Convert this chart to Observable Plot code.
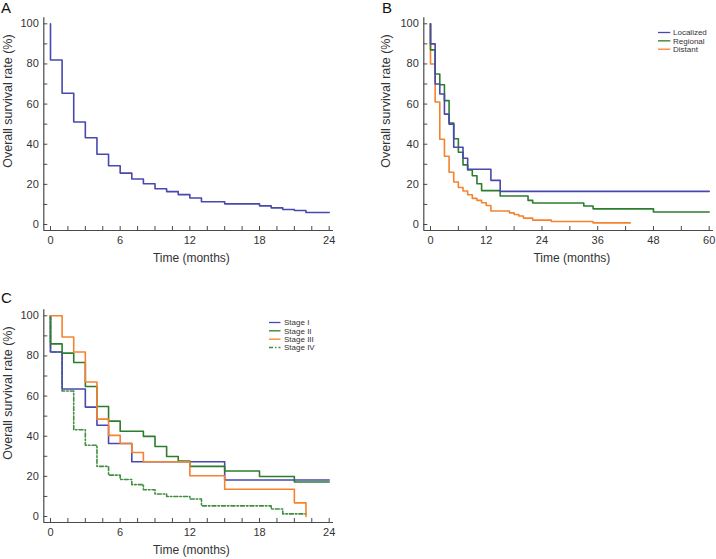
<!DOCTYPE html>
<html><head><meta charset="utf-8">
<script src="https://cdn.jsdelivr.net/npm/d3@7"></script>
<script src="https://cdn.jsdelivr.net/npm/@observablehq/plot@0.6"></script>
<style>
body{margin:0;background:#fff;}
#root{position:relative;width:716px;height:559px;font-family:"Liberation Sans",Arial,Helvetica,sans-serif;overflow:hidden;background:#fff;}
.panel{position:absolute;}
.letter{position:absolute;font-size:15px;color:#111;line-height:15px;}
</style></head><body><div id="root"></div>
<script>
// ---------- data ----------
const yTitle = "Overall survival rate (%)";
const xTitle = "Time (months)";
const yTicks = [0, 10, 20, 30, 40, 50, 60, 70, 80, 90, 100];
const yTickLabels = [0, 20, 40, 60, 80, 100];
const xTickLabels24 = [0, 6, 12, 18, 24];
const xTickLabels60 = [0, 12, 24, 36, 48, 60];

// Panel A: overall
const timesA = [0, 0, 1, 2, 3, 4, 5, 6, 7, 8, 9, 10, 11, 12, 13, 15, 18, 19, 20, 21, 22, 24];
const survA  = [100, 82, 65.4, 51.1, 43.2, 35.0, 29.3, 25.6, 22.7, 20.3, 17.8, 16.4, 14.9, 13.2, 11.3, 10.3, 9.3, 8.3, 7.5, 7.0, 6.0, 6.0];

// Panel B: by extent
const namesB = ["Localized", "Regional", "Distant"];
const timesLocalized = [0, 0, 1, 2, 3, 4, 5, 7, 8, 13, 15, 60];
const survLocalized  = [100, 90, 70, 65, 55, 50, 38.5, 33, 27.5, 22, 16.5, 16.5];
const timesRegional = [0, 0, 1, 2, 3, 4, 5, 6, 7, 8, 9, 10, 11, 15, 21, 22, 33, 35, 48, 60];
const survRegional  = [100, 87, 75, 69.6, 61.7, 50.6, 42.7, 36, 29.7, 27.2, 24.3, 20.3, 16.9, 14.2, 12, 10.7, 9.2, 7.8, 6.2, 6.2];
const timesDistant = [0, 0, 1, 2, 3, 4, 5, 6, 7, 8, 9, 10, 11, 12, 13, 17, 18, 19, 20, 22, 26, 35, 43];
const survDistant  = [100, 80, 61, 42.5, 34, 26, 21.2, 18.4, 16.7, 14.8, 13, 12, 10.8, 9.5, 6.7, 5.8, 5, 4.2, 3.2, 2.2, 1.5, 0.8, 0.8];

// Panel C: by stage
const namesC = ["Stage I", "Stage II", "Stage III", "Stage IV"];
const timesStageI = [0, 0, 1, 3, 4, 5, 7, 15, 24];
const survStageI  = [100, 82, 63.5, 54.5, 45.5, 36.4, 27.3, 18.2, 18.2];
const timesStageII = [0, 0, 1, 2, 3, 4, 5, 6, 8, 9, 10, 11, 12, 15, 18, 21, 24];
const survStageII  = [100, 86, 81.4, 76.7, 64.8, 54.8, 47.5, 42.5, 39.9, 34.9, 29.9, 27.6, 25, 22.7, 19.9, 17.2, 17.2];
const timesStageIII = [0, 1, 2, 3, 4, 5, 6, 7, 8, 12, 15, 21, 22];
const survStageIII  = [100, 89.4, 82, 67, 48.5, 40.4, 36.4, 31.9, 27.3, 20.3, 13.6, 6.8, 0];
const timesStageIV = [0, 0, 1, 2, 3, 4, 5, 6, 7, 8, 9, 10, 12, 13, 19, 20, 22];
const survStageIV  = [100, 82, 62.5, 43.2, 35.5, 25, 20.6, 18.4, 15.9, 13.3, 11.2, 10, 8.7, 5.3, 3.7, 1.3, 1.3];

// ---------- styles ----------
const BLUE = "#4848ae", GREEN = "#2c7d2c", ORANGE = "#f5822f", GREEN4 = "#3f8f3f";
const axisInk = "#4a4a4a", textInk = "#333";
const root = document.getElementById("root");

function toRows(t, v) { return t.map((x, i) => ({t: x, v: v[i]})); }

function panel(cfg) {
  const {left, top, width, height, x0px, xMaxPx, y100px, y0px, xMax, xLabels, xMinorStep, lines, yTitleDx, xTitleDx} = cfg;
  const ppx = (xMaxPx - x0px) / xMax, ppy = (y0px - y100px) / 100;
  const xLo = -6.7 / ppx, xHi = xMax + 4.3 / ppx, yLo = -6 / ppy, yHi = 100 + 6 / ppy;
  const tickLen = 4;
  const xMinor = d3.range(0, xMax + 1e-9, xMinorStep);
  const marks = [
    Plot.ruleY(yTicks, {x1: xLo, x2: xLo + tickLen / ppx, stroke: axisInk}),
    Plot.ruleX(xMinor, {y1: yLo, y2: yLo + tickLen / ppy, stroke: axisInk}),
    Plot.ruleX([xLo], {y1: yLo, y2: yHi, stroke: axisInk, strokeWidth: 1.2}),
    Plot.ruleY([yLo], {x1: xLo, x2: xHi, stroke: axisInk, strokeWidth: 1.2}),
    Plot.text(yTickLabels, {x: xLo, y: d => d, dx: -5, textAnchor: "end", fontSize: 11, fill: textInk}),
    Plot.text(xLabels, {x: d => d, y: yLo, dy: 10, fontSize: 11, fill: textInk}),
    ...lines.map(s => Plot.line(toRows(s.t, s.v), {x: "t", y: "v", curve: "step-after", stroke: s.color, strokeWidth: 1.6, strokeDasharray: s.dash || null})),
    Plot.text([xTitle], {x: xMax / 2, y: yLo, dy: 28, dx: xTitleDx, fontSize: 12, fill: textInk, ariaLabel: "x-title"}),
    Plot.text([yTitle], {x: xLo, y: 61.5, dx: yTitleDx, rotate: -90, fontSize: 12.5, fill: textInk, ariaLabel: "y-title"})
  ];
  const svg = Plot.plot({
    width, height,
    marginLeft: x0px - 6.7, marginRight: width - (xMaxPx + 4.3),
    marginTop: y100px - 6, marginBottom: height - (y0px + 6),
    x: {domain: [xLo, xHi], axis: null},
    y: {domain: [yLo, yHi], axis: null},
    style: {fontFamily: '"Liberation Sans", Arial, sans-serif', background: "transparent", overflow: "visible"},
    marks
  });
  const yt = svg.querySelector('[aria-label="y-title"] text');
  if (yt) { yt.setAttribute("textLength", 166); yt.setAttribute("lengthAdjust", "spacingAndGlyphs"); }
  const xt = svg.querySelector('[aria-label="x-title"] text');
  if (xt) { xt.setAttribute("textLength", 73); xt.setAttribute("lengthAdjust", "spacingAndGlyphs"); }
  svg.classList.add("panel");
  svg.style.position = "absolute";
  svg.style.left = left + "px";
  svg.style.top = top + "px";
  root.appendChild(svg);
}

function legend({left, top, names, colors, dashes, step, lineLen, textX}) {
  const h = names.length * step + 4;
  const svg = d3.select(root).append("svg")
    .style("position", "absolute").style("left", left + "px").style("top", top + "px")
    .attr("width", 80).attr("height", h);
  names.forEach((n, i) => {
    const y = 4.5 + i * step;
    svg.append("line").attr("x1", 0).attr("x2", lineLen).attr("y1", y).attr("y2", y)
      .attr("stroke", colors[i]).attr("stroke-width", 1.3).attr("stroke-dasharray", dashes[i] || null);
    svg.append("text").attr("x", textX).attr("y", y).attr("dy", "0.34em")
      .attr("font-size", 8).attr("fill", textInk)
      .attr("font-family", '"Liberation Sans", Arial, sans-serif').text(n);
  });
}

function letter(txt, left, top) {
  const d = document.createElement("div");
  d.className = "letter"; d.textContent = txt;
  d.style.left = left + "px"; d.style.top = top + "px";
  root.appendChild(d);
}

// Panel A
panel({left: 0, top: 0, width: 345, height: 270, x0px: 50, xMaxPx: 328.7, y100px: 23.3, y0px: 224,
  xMax: 24, xLabels: xTickLabels24, xMinorStep: 1.5, yTitleDx: -36, xTitleDx: 1.5,
  lines: [{t: timesA, v: survA, color: BLUE}]});
letter("A", 1, 0);

// Panel B
panel({left: 360, top: 0, width: 356, height: 270, x0px: 70, xMaxPx: 348.7, y100px: 23.3, y0px: 224,
  xMax: 60, xLabels: xTickLabels60, xMinorStep: 6, yTitleDx: -37.6, xTitleDx: 2,
  lines: [
    {t: timesDistant, v: survDistant, color: ORANGE},
    {t: timesRegional, v: survRegional, color: GREEN},
    {t: timesLocalized, v: survLocalized, color: BLUE}
  ]});
letter("B", 382, 0);
legend({left: 657.7, top: 27.5, names: namesB, colors: [BLUE, GREEN, ORANGE], dashes: [], step: 8.35, lineLen: 12.3, textX: 15});

// Panel C
panel({left: 0, top: 280, width: 345, height: 279, x0px: 50, xMaxPx: 328.7, y100px: 35.3, y0px: 236,
  xMax: 24, xLabels: xTickLabels24, xMinorStep: 1.5, yTitleDx: -36, xTitleDx: 1.5,
  lines: [
    {t: timesStageIV, v: survStageIV, color: GREEN4, dash: "4,2,1.5,2"},
    {t: timesStageI, v: survStageI, color: BLUE},
    {t: timesStageII, v: survStageII, color: GREEN},
    {t: timesStageIII, v: survStageIII, color: ORANGE}
  ]});
letter("C", 1, 290);
legend({left: 269, top: 317.8, names: namesC, colors: [BLUE, GREEN, ORANGE, GREEN4], dashes: [null, null, null, "4,2,1.5,2"], step: 8.33, lineLen: 11.5, textX: 15});
</script></body></html>
